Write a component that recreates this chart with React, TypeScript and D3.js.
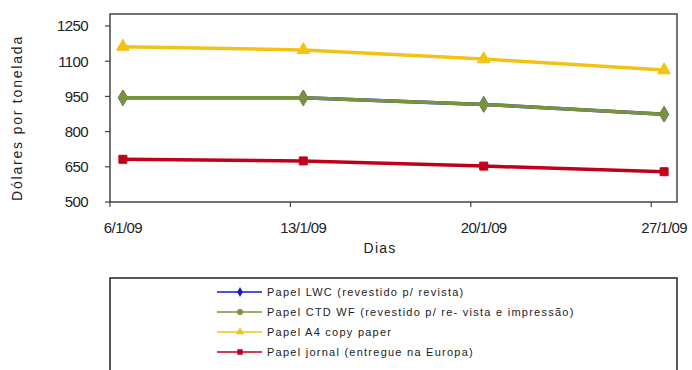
import React from "react";
import * as d3 from "d3";

const days: number[] = [6, 13, 20, 27];
const tickLabels: string[] = ["6/1/09", "13/1/09", "20/1/09", "27/1/09"];
const yTicks: number[] = [500, 650, 800, 950, 1100, 1250];

const seriesNames: string[] = [
  "Papel LWC  (revestido  p/ revista)",
  "Papel CTD WF (revestido  p/ re- vista e impressão)",
  "Papel A4 copy paper",
  "Papel jornal  (entregue na  Europa)",
];
const lwc: number[] = [944, 944, 916, 874];
const ctd: number[] = [944, 944, 916, 874];
const a4: number[] = [1162, 1148, 1109, 1062];
const jornal: number[] = [682, 675, 653, 629];

const colors: string[] = ["#1a1acc", "#77933c", "#f2c314", "#c0001a"];
const markers: string[] = ["diamond", "circle", "triangle", "square"];

const W = 692;
const H = 370;
const left = 110;
const right = 677;
const top = 14;
const bottom = 202;

export default function App() {
  const x = d3.scaleLinear().domain([6, 28]).range([left, right]);
  const y = d3.scaleLinear().domain([500, 1250]).range([bottom, 26]);
  const data = [lwc, ctd, a4, jornal];
  const line = d3
    .line<number>()
    .x((_, i) => x(days[i] + 0.5))
    .y((v) => y(v));

  const sym = (m: string, size: number) => {
    const t =
      m === "diamond"
        ? d3.symbolDiamond
        : m === "triangle"
        ? d3.symbolTriangle
        : m === "square"
        ? d3.symbolSquare
        : d3.symbolCircle;
    return d3.symbol(t, size)() as string;
  };

  const font = "Arial, 'Liberation Sans', sans-serif";

  return (
    <svg
      width={W}
      height={H}
      style={{ position: "absolute", left: 0, top: 0, background: "#fff" }}
      fontFamily={font}
    >
      <rect x={0} y={0} width={W} height={H} fill="#fff" />
      <rect
        x={left}
        y={top}
        width={right - left}
        height={bottom - top}
        fill="#fff"
        stroke="#444"
        strokeWidth={1.5}
      />
      {yTicks.map((t) => (
        <g key={t}>
          <line x1={left - 5} x2={left} y1={y(t)} y2={y(t)} stroke="#444" strokeWidth={1.2} />
          <text
            x={88}
            y={y(t)}
            dy="0.36em"
            textAnchor="end"
            fontSize={15}
            fill="#222"
            letterSpacing={-0.6}
          >
            {t}
          </text>
        </g>
      ))}
      {days.map((d, i) => (
        <g key={d}>
          <line x1={x(d)} x2={x(d)} y1={bottom} y2={bottom + 5} stroke="#444" strokeWidth={1.2} />
          <text
            x={x(d + 0.5)}
            y={233}
            textAnchor="middle"
            fontSize={15}
            fill="#222"
            letterSpacing={-0.6}
          >
            {tickLabels[i]}
          </text>
        </g>
      ))}
      <text x={380} y={253} textAnchor="middle" fontSize={14} fill="#222" letterSpacing={1.2}>
        Dias
      </text>
      <text
        transform={`translate(22,118) rotate(-90)`}
        textAnchor="middle"
        fontSize={14}
        fill="#222"
        letterSpacing={1.8}
      >
        Dólares por tonelada
      </text>
      {data.map((s, si) => (
        <g key={si}>
          <path d={line(s) as string} fill="none" stroke={colors[si]} strokeWidth={3.5} />
          {s.map((v, i) => (
            <path
              key={i}
              d={sym(markers[si] === "circle" ? "diamond" : markers[si], markers[si] === "square" ? 64 : 70)}
              transform={`translate(${x(days[i] + 0.5)},${y(v)})`}
              fill={colors[si]}
              stroke={colors[si]}
              strokeWidth={1}
            />
          ))}
        </g>
      ))}
      <rect x={110} y={278} width={567} height={100} fill="#fff" stroke="#222" strokeWidth={1.5} />
      {seriesNames.map((n, i) => {
        const ly = 292 + i * 20;
        return (
          <g key={n}>
            <line x1={217} x2={262} y1={ly} y2={ly} stroke={colors[i]} strokeWidth={1.5} />
            <path
              d={sym(markers[i], markers[i] === "square" ? 30 : 28)}
              transform={`translate(240,${ly})`}
              fill={colors[i]}
            />
            <text x={267} y={ly} dy="0.36em" fontSize={11} fill="#222" letterSpacing={1.25}>
              {n}
            </text>
          </g>
        );
      })}
    </svg>
  );
}
